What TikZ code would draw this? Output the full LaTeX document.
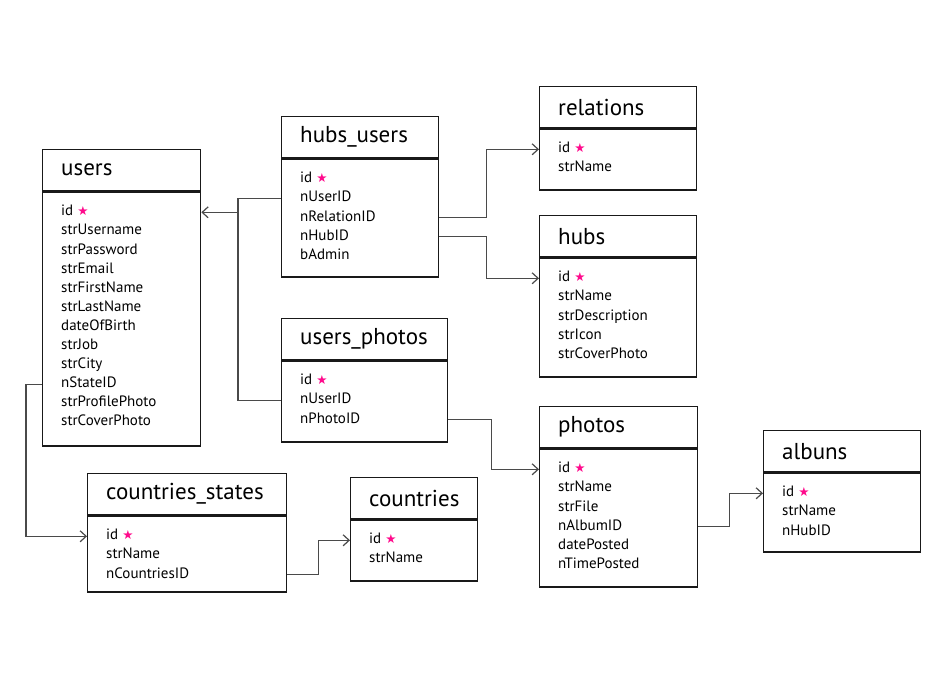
\documentclass[tikz,border=0pt]{standalone}
\usepackage{fontspec}
\setmainfont{PT Sans}
\newfontfamily\symfont{DejaVu Sans}
\usetikzlibrary{arrows.meta,positioning}

\definecolor{starpink}{HTML}{FF0A8C}
\definecolor{linkgray}{HTML}{4A4A4A}
\newcommand{\idstar}{{\symfont\fontsize{12.5}{12.5}\selectfont\textcolor{starpink}{★}}}

\tikzset{
  tblhead/.style={draw=black!90,line width=1.3pt,rectangle,minimum height=41pt,inner sep=0pt},
  tblbody/.style={draw=black!90,line width=1.3pt,rectangle,inner sep=0pt},
  tbltitle/.style={anchor=west,inner sep=0pt,font=\fontsize{23}{23}\selectfont},
  field/.style={anchor=west,inner sep=0pt,text height=10pt,text depth=3pt,font=\fontsize{15}{15}\selectfont},
  link/.style={draw=linkgray,line width=1.2pt,-{Straight Barb[length=6pt,width=11pt]}},
}

% name, x, y, width, body height, title, fields after id
\newcommand{\dbtable}[7]{%
  \node[tblhead,minimum width=#4pt,anchor=north west] (#1-head) at (#2,#3) {};
  \node[tbltitle] (#1-title) at ([xshift=19pt]#1-head.west) {#6};
  \node[tblbody,minimum width=#4pt,minimum height=#5pt,anchor=north west] (#1-body) at (#1-head.south west) {};
  \node[field] (#1-1) at ([xshift=19pt,yshift=-21pt]#1-body.north west) {id \idstar};
  \foreach \f [count=\i from 2] in {#7}
    \node[field] (#1-\i) at ([xshift=19pt,yshift=-21pt-(\i-1)*19.1pt]#1-body.north west) {\f};
}

\begin{document}
\begin{tikzpicture}[x=1pt,y=-1pt]
\useasboundingbox (0,0) rectangle (948,686);

% tables
\dbtable{users}{42}{149}{158}{254}{users}{strUsername,strPassword,strEmail,strFirstName,strLastName,dateOfBirth,strJob,strCity,nStateID,strProfilePhoto,strCoverPhoto}
\dbtable{husers}{281}{116}{157}{118}{hubs\_users}{nUserID,nRelationID,nHubID,bAdmin}
\dbtable{relations}{539}{86}{157}{61}{relations}{strName}
\dbtable{hubs}{539}{215}{157}{119}{hubs}{strName,strDescription,strIcon,strCoverPhoto}
\dbtable{uphotos}{281}{318}{166}{81}{users\_photos}{nUserID,nPhotoID}
\dbtable{cstates}{87}{473}{199}{76}{countries\_states}{strName,nCountriesID}
\dbtable{countries}{350}{477}{127}{61}{countries}{strName}
\dbtable{photos}{539}{406}{158}{138}{photos}{strName,strFile,nAlbumID,datePosted,nTimePosted}
\dbtable{albuns}{763}{430}{157}{79}{albuns}{strName,nHubID}

% links
\coordinate (hubbus) at ([xshift=-43pt]husers-body.west);
\draw[link,-] (husers-body.west |- husers-2) -- (hubbus |- husers-2) |- (uphotos-body.west |- uphotos-2);
\draw[link] (hubbus |- users-1) -- (users-body.east |- users-1);
\draw[link] (husers-body.east |- husers-3) -- ++(47,0) |- (relations-body.west |- relations-1);
\draw[link] (husers-body.east |- husers-4) -- ++(47,0) |- (hubs-body.west |- hubs-1);
\draw[link] (uphotos-body.east |- uphotos-3) -- ++(43,0) |- (photos-body.west |- photos-1);
\draw[link] (users-body.west |- users-10) -- ++(-16,0) |- (cstates-body.west |- cstates-1);
\draw[link] (cstates-body.east |- cstates-3) -- ++(31,0) |- (countries-body.west |- countries-1);
\draw[link] (photos-body.east |- photos-4) -- ++(31,0) |- (albuns-body.west |- albuns-1);
\end{tikzpicture}
\end{document}
